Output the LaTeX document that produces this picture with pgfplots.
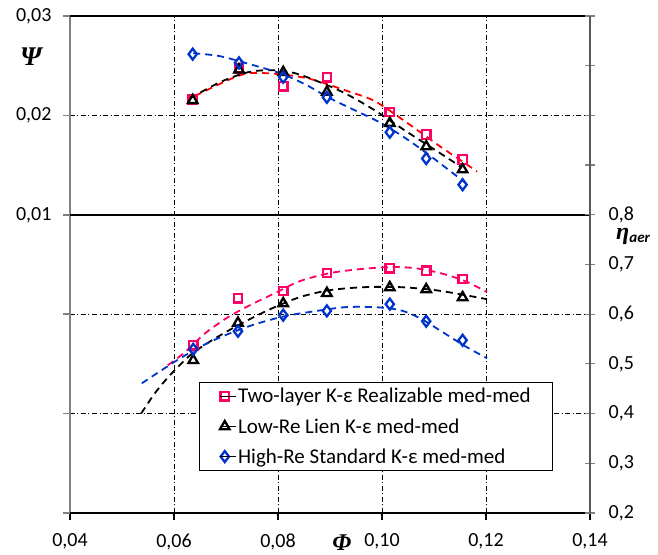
\documentclass[border=0pt]{standalone}
\usepackage{pgfplots}
\pgfplotsset{compat=1.18}
\usepackage{fontspec}
\setmainfont{Carlito}
\newfontfamily\serifgreek{Liberation Serif}
\definecolor{pinkc}{RGB}{255,0,102}
\definecolor{redc}{RGB}{255,0,0}
\definecolor{bluec}{RGB}{0,51,204}
\definecolor{grayax}{RGB}{128,128,128}
\definecolor{darkax}{RGB}{89,89,89}
\begin{document}
\begin{tikzpicture}[font=\fontsize{20}{24}\selectfont]
\pgfplotsset{
  common/.style={
    width=520pt, height=497pt, scale only axis,
    xmin=0.04, xmax=0.14,
    axis line style={draw=none},
    scaled ticks=false,
    tick align=outside,
    major tick length=7pt,
    ticklabel style={font=\fontsize{20}{24}\selectfont},
    clip=false,
  },
  trend/.style={line width=1.8pt, dash pattern=on 7pt off 5pt, forget plot, smooth},
  sq/.style={only marks, mark=square, mark size=4.2pt, mark options={draw=pinkc, fill=white, line width=2.3pt, solid}},
  tri/.style={only marks, mark=triangle, mark size=5.5pt, mark options={draw=black, fill=white, line width=2.3pt, solid}},
  dia/.style={only marks, mark=diamond, mark size=5.5pt, mark options={draw=bluec, fill=white, line width=2.3pt, solid}},
}
\begin{axis}[common, name=ax1,
  ymin=-0.02, ymax=0.03,
  xtick={0.04,0.06,0.08,0.10,0.12,0.14},
  xticklabels={{0,04},{0,06},{0,08},{0,10},{0,12},{0,14}},
  ytick={-0.02,-0.01,0,0.01,0.02,0.03},
  yticklabels={,,,{0,01},{0,02},{0,03}},
  xtick pos=bottom, ytick pos=left,
  xmajorgrids, ymajorgrids,
  grid style={black, line width=0.6pt, dash pattern=on 5pt off 2.5pt on 1pt off 2.5pt},
  y tick style={grayax, line width=1.5pt},
  x tick style={black, line width=1.5pt},
  xticklabel shift=10pt,
  yticklabel shift=8pt,
]
% trend lines (Psi)
\addplot[trend, redc] coordinates {(0.0640,0.02195) (0.0727,0.02404) (0.0779,0.02424) (0.0856,0.02374) (0.0935,0.02242) (0.0987,0.02141) (0.1050,0.01919) (0.1112,0.01687) (0.1169,0.01485) (0.1183,0.01434)};
\addplot[trend, black] coordinates {(0.0631,0.02172) (0.0688,0.02333) (0.0742,0.02434) (0.0788,0.02455) (0.0833,0.02424) (0.0881,0.02333) (0.0929,0.02222) (0.0983,0.02061) (0.1038,0.01869) (0.1104,0.01646) (0.1154,0.01475)};
\addplot[trend, bluec] coordinates {(0.0637,0.02626) (0.0688,0.02596) (0.0746,0.02515) (0.0804,0.02424) (0.0852,0.02313) (0.0900,0.02172) (0.0948,0.02051) (0.0996,0.01929) (0.1046,0.01768) (0.1092,0.01596) (0.1140,0.01404) (0.1160,0.01323)};
% markers (Psi)
\addplot[sq] coordinates {(0.0636,0.02159) (0.0725,0.02475) (0.0810,0.02293) (0.0894,0.02384) (0.1015,0.02033) (0.1085,0.01808) (0.1155,0.01556)};
\addplot[tri] coordinates {(0.0636,0.02152) (0.0725,0.02460) (0.0810,0.02434) (0.0894,0.02235) (0.1015,0.01922) (0.1085,0.01687) (0.1155,0.01455)};
\addplot[dia] coordinates {(0.0636,0.02616) (0.0725,0.02528) (0.0810,0.02384) (0.0894,0.02182) (0.1015,0.01831) (0.1085,0.01566) (0.1155,0.01303)};
% frame
\draw[grayax, line width=2pt] (rel axis cs:0,0) -- (rel axis cs:0,1);
\draw[black, line width=2pt] (rel axis cs:0,1) -- (rel axis cs:1,1);
\draw[black, line width=2.5pt] (rel axis cs:0,0) -- (rel axis cs:1,0);
\draw[black, line width=2.5pt] (rel axis cs:0,0.6) -- (rel axis cs:1,0.6);
\node[font=\serifgreek\bfseries\itshape\fontsize{27}{30}\selectfont] at (rel axis cs:0,0.9175) [xshift=-39pt] {Ψ};
\node[font=\serifgreek\bfseries\itshape\fontsize{24}{28}\selectfont] at (rel axis cs:0.523,0) [yshift=-30pt] {Φ};
\end{axis}
\begin{axis}[common, name=ax2, at={(ax1.south west)}, anchor=south west,
  ymin=0.2, ymax=1.2,
  xtick=\empty,
  ytick={0.2,0.3,0.4,0.5,0.6,0.7,0.8,0.9,1.0,1.1,1.2},
  yticklabels={{0,2},{0,3},{0,4},{0,5},{0,6},{0,7},{0,8},,,,},
  ytick pos=right, yticklabel pos=right,
  tick align=center, major tick length=10pt,
  y tick style={grayax, line width=1.2pt},
  yticklabel style={inner sep=0.5pt},
  yticklabel shift=13pt,
  legend style={at={(rel axis cs:0.248,0.2636)}, anchor=north west, draw=black, line width=0.8pt, fill=white,
    inner xsep=20pt, inner ysep=4pt, row sep=10pt, font=\fontsize{21}{24}\selectfont},
  legend cell align=left,
  legend image code/.code={\draw[#1] plot coordinates {(0pt,0pt)};\path (-5pt,0pt) -- (11pt,0pt);},
]
% trend lines (eta)
\addplot[trend, pinkc] coordinates {(0.0588,0.4972) (0.0621,0.5234) (0.0660,0.5617) (0.0704,0.5940) (0.0746,0.6181) (0.0794,0.6423) (0.0842,0.6665) (0.0900,0.6827) (0.0958,0.6907) (0.1015,0.6948) (0.1063,0.6927) (0.1112,0.6827) (0.1160,0.6665) (0.1202,0.6444)};
\addplot[trend, black] coordinates {(0.0537,0.4004) (0.0563,0.4407) (0.0592,0.4770) (0.0631,0.5173) (0.0673,0.5476) (0.0727,0.5798) (0.0785,0.6101) (0.0842,0.6343) (0.0900,0.6484) (0.0967,0.6544) (0.1035,0.6544) (0.1102,0.6484) (0.1160,0.6383) (0.1202,0.6302)};
\addplot[trend, bluec] coordinates {(0.0538,0.4609) (0.0573,0.4851) (0.0612,0.5113) (0.0660,0.5395) (0.0708,0.5617) (0.0756,0.5798) (0.0813,0.5960) (0.0871,0.6060) (0.0929,0.6141) (0.0987,0.6141) (0.1035,0.6081) (0.1073,0.5919) (0.1117,0.5637) (0.1160,0.5355) (0.1202,0.5113)};
% markers (eta)
\addplot[sq] coordinates {(0.0637,0.5375) (0.0723,0.6317) (0.0810,0.6464) (0.0894,0.6827) (0.1015,0.6921) (0.1085,0.6873) (0.1155,0.6706)};
\addlegendentry{Two-layer K-ε Realizable med-med}
\addplot[tri] coordinates {(0.0637,0.5073) (0.0723,0.5825) (0.0810,0.6216) (0.0894,0.6423) (0.1015,0.6538) (0.1085,0.6498) (0.1155,0.6337)};
\addlegendentry{Low-Re Lien K-ε med-med}
\addplot[dia] coordinates {(0.0637,0.5294) (0.0723,0.5657) (0.0810,0.5980) (0.0894,0.6067) (0.1015,0.6202) (0.1085,0.5859) (0.1155,0.5476)};
\addlegendentry{High-Re Standard K-ε med-med}
\draw[darkax, line width=1.5pt] (rel axis cs:1,0) -- (rel axis cs:1,1);
\node[anchor=west, inner sep=0pt] at (rel axis cs:1,0.557) [xshift=26pt] {{\serifgreek\bfseries\itshape\fontsize{24}{26}\selectfont η}\raisebox{-3pt}{\bfseries\itshape\fontsize{15}{18}\selectfont aer}};
\end{axis}
\pgfresetboundingbox
\path[use as bounding box] ([xshift=-70pt,yshift=-42pt]ax1.south west) rectangle ([xshift=68pt,yshift=16pt]ax1.north east);
\end{tikzpicture}
\end{document}
